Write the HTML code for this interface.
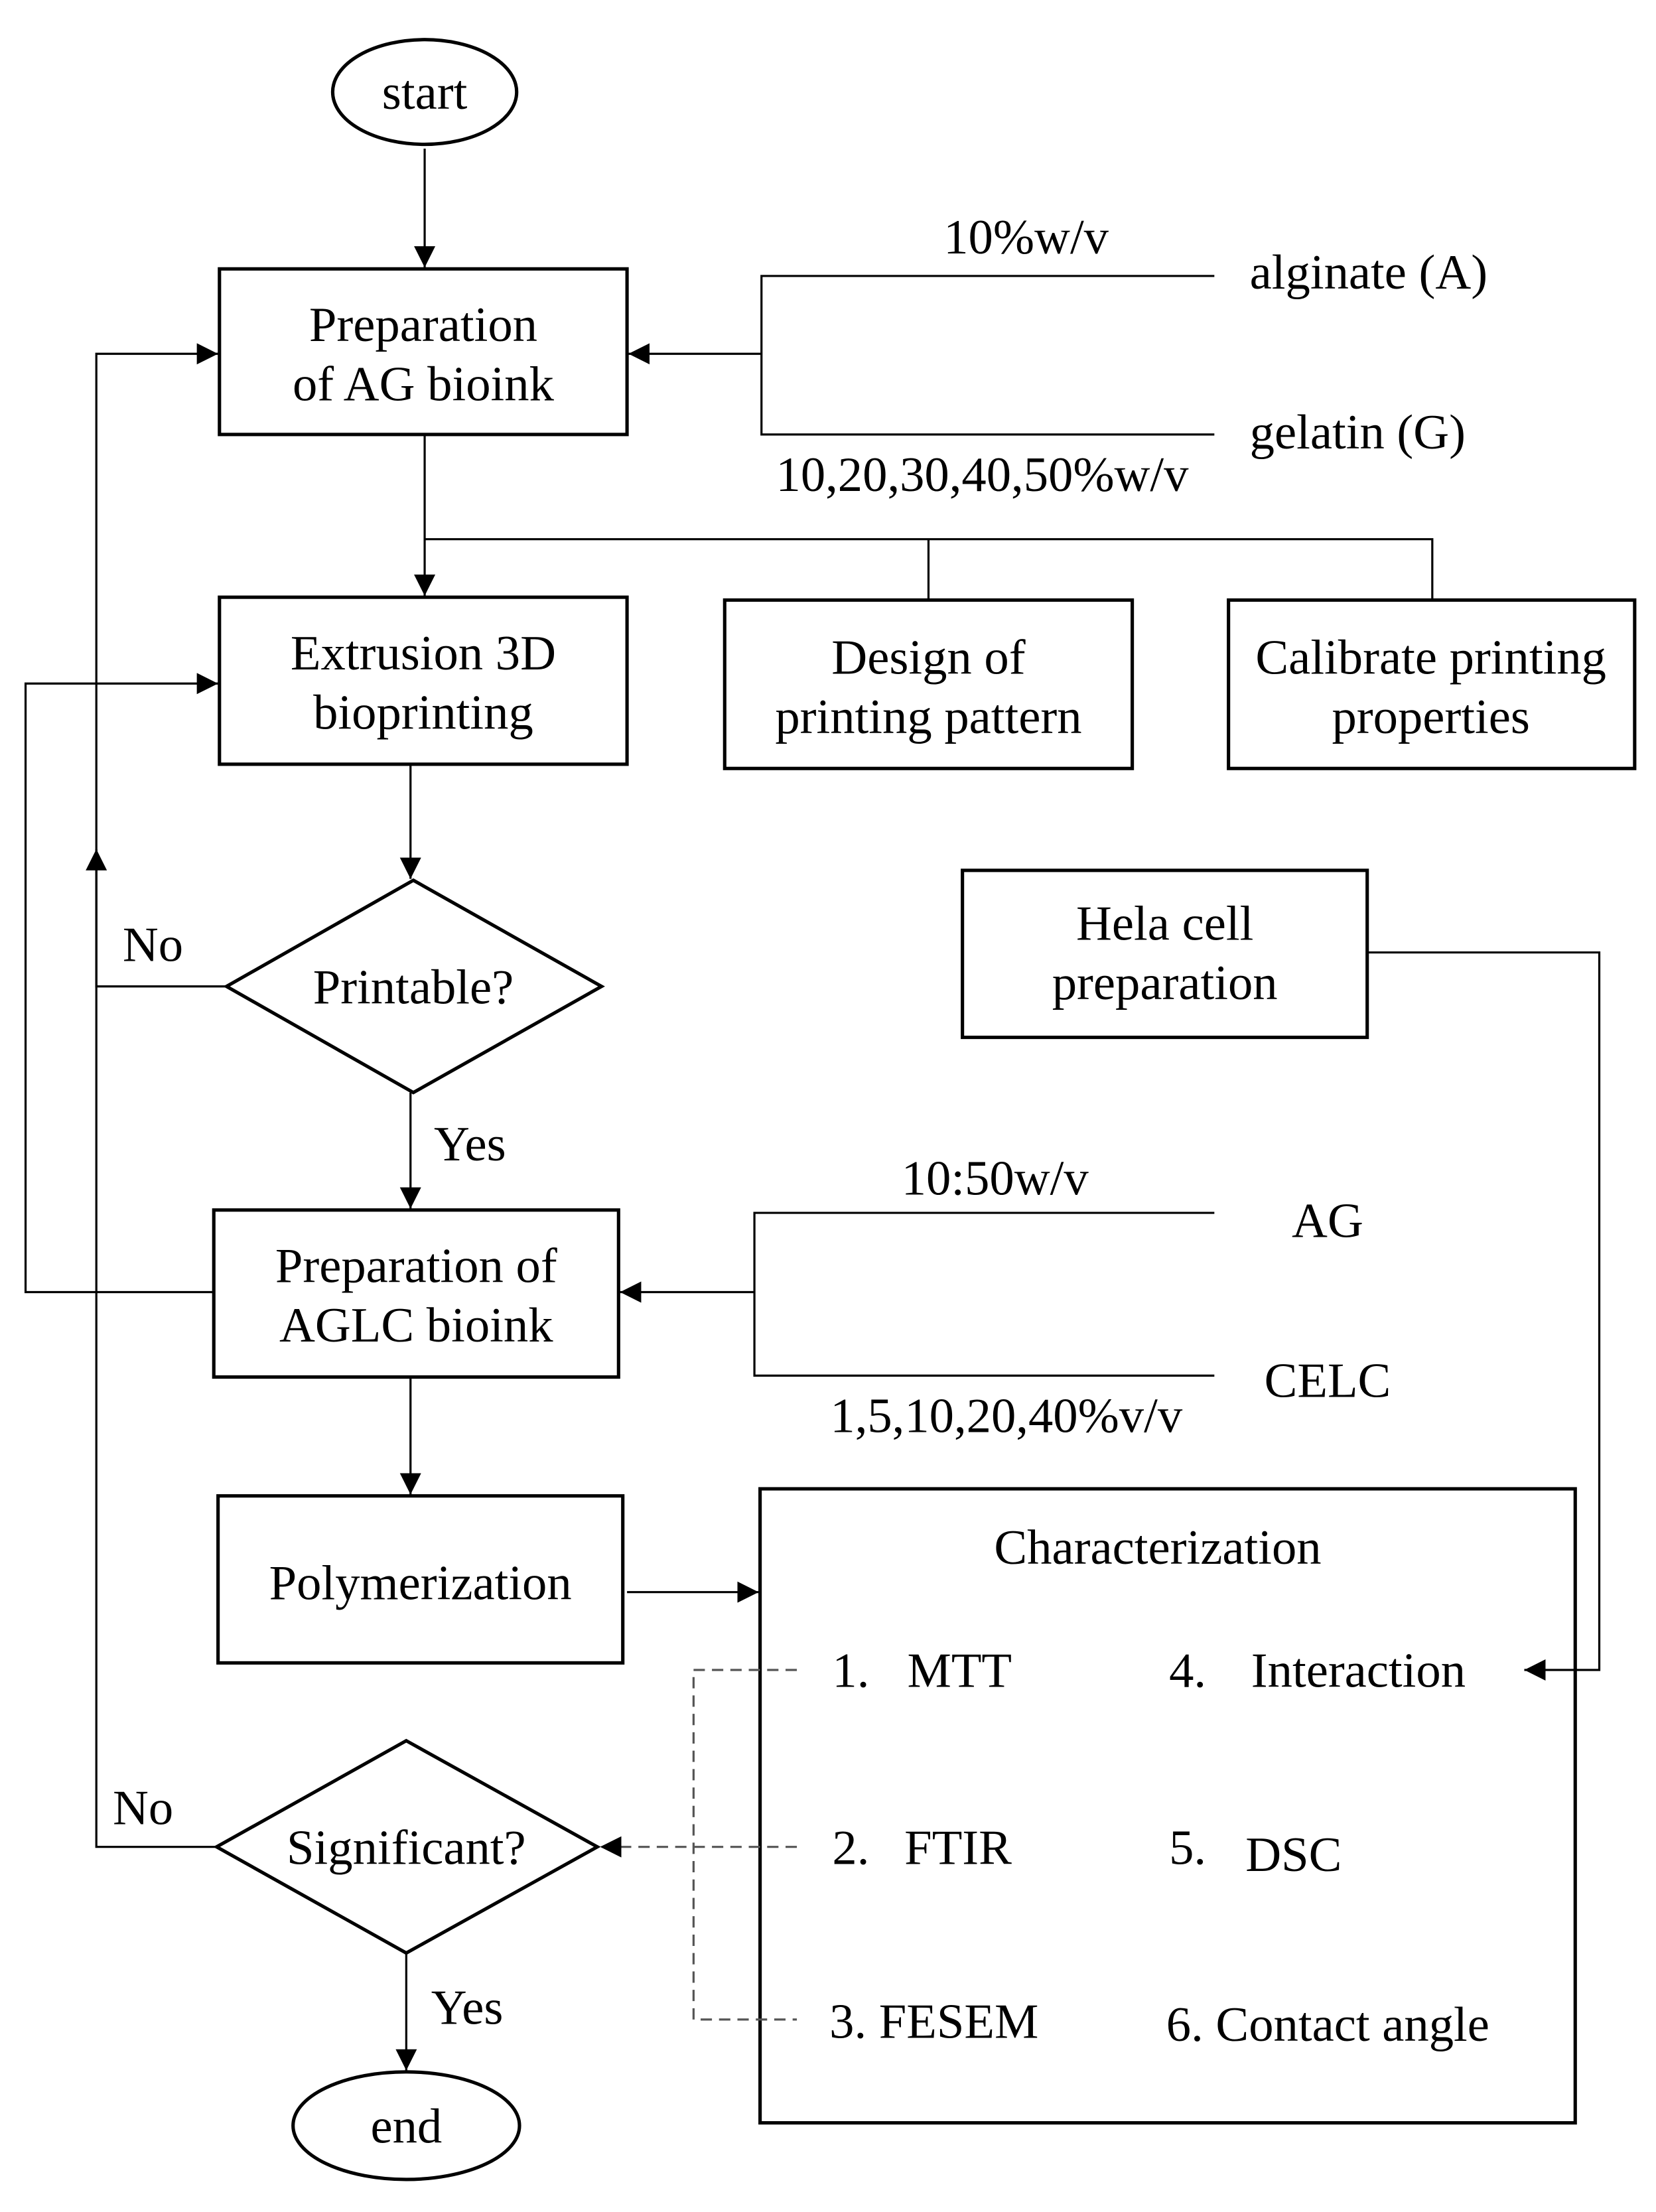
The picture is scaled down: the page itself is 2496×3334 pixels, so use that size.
<!DOCTYPE html>
<html><head><meta charset="utf-8"><style>html,body{margin:0;padding:0;background:#fff}svg{display:block}</style></head>
<body>
<svg width="2496" height="3334" viewBox="0 0 1170 1563" xmlns="http://www.w3.org/2000/svg">
<defs>
<marker id="a" viewBox="0 0 10 10" refX="10" refY="5" markerWidth="15" markerHeight="15" markerUnits="userSpaceOnUse" orient="auto"><path d="M0,0 L10,5 L0,10 z" fill="#000"/></marker>
</defs>
<g font-family="Liberation Serif, serif" font-size="35" fill="#000" text-anchor="middle">
<g fill="none" stroke="#000" stroke-width="2.4">
<ellipse cx="300" cy="65" rx="65" ry="37"/>
<rect x="155" y="190" width="288" height="117"/>
<rect x="155" y="422" width="288" height="118"/>
<rect x="512" y="424" width="288" height="119"/>
<rect x="868" y="424" width="287" height="119"/>
<polygon points="292,622 425,697 292,772 160,697"/>
<rect x="680" y="615" width="286" height="118"/>
<rect x="151" y="855" width="286" height="118"/>
<rect x="154" y="1057" width="286" height="118"/>
<rect x="537" y="1052" width="576" height="448"/>
<polygon points="287,1230 422,1305 287,1380 153,1305"/>
<ellipse cx="287" cy="1502" rx="80" ry="38"/>
</g>
<g fill="none" stroke="#000" stroke-width="1.5">
<line x1="300" y1="105" x2="300" y2="189" marker-end="url(#a)"/>
<polyline points="858,195 538,195 538,307 858,307"/>
<line x1="538" y1="250" x2="444" y2="250" marker-end="url(#a)"/>
<line x1="300" y1="307" x2="300" y2="421" marker-end="url(#a)"/>
<polyline points="300,381 1012,381 1012,424"/>
<line x1="656" y1="381" x2="656" y2="424"/>
<line x1="290" y1="540" x2="290" y2="621" marker-end="url(#a)"/>
<polyline points="160,697 68,697 68,600" marker-end="url(#a)"/>
<polyline points="153,1305 68,1305 68,250 154,250" marker-end="url(#a)"/>
<polyline points="151,913 18,913 18,483 154,483" marker-end="url(#a)"/>
<line x1="290" y1="772" x2="290" y2="854" marker-end="url(#a)"/>
<polyline points="858,857 533,857 533,972 858,972"/>
<line x1="533" y1="913" x2="438" y2="913" marker-end="url(#a)"/>
<line x1="290" y1="973" x2="290" y2="1056" marker-end="url(#a)"/>
<line x1="443" y1="1125" x2="536" y2="1125" marker-end="url(#a)"/>
<polyline points="966,673 1130,673 1130,1180 1077,1180" marker-end="url(#a)"/>
<line x1="287" y1="1380" x2="287" y2="1463" marker-end="url(#a)"/>
<g stroke="#555" stroke-dasharray="8,5">
<polyline points="563,1180 490,1180 490,1427 563,1427"/>
<line x1="563" y1="1305" x2="424" y2="1305" marker-end="url(#a)"/>
</g>
</g>
<text x="300" y="77">start</text>
<text x="299" y="241">Preparation</text>
<text x="299" y="283">of AG bioink</text>
<text x="725" y="179">10%w/v</text>
<text x="883" y="204" text-anchor="start">alginate (A)</text>
<text x="883" y="317" text-anchor="start">gelatin (G)</text>
<text x="694" y="347">10,20,30,40,50%w/v</text>
<text x="299" y="473">Extrusion 3D</text>
<text x="299" y="515">bioprinting</text>
<text x="656" y="476">Design of</text>
<text x="656" y="518">printing pattern</text>
<text x="1011" y="476">Calibrate printing</text>
<text x="1011" y="518">properties</text>
<text x="292" y="709">Printable?</text>
<text x="108" y="679">No</text>
<text x="823" y="664">Hela cell</text>
<text x="823" y="706">preparation</text>
<text x="332" y="820">Yes</text>
<text x="294" y="906">Preparation of</text>
<text x="294" y="948">AGLC bioink</text>
<text x="703" y="844">10:50w/v</text>
<text x="938" y="874">AG</text>
<text x="938" y="987">CELC</text>
<text x="711" y="1012">1,5,10,20,40%v/v</text>
<text x="297" y="1130">Polymerization</text>
<text x="818" y="1105">Characterization</text>
<g text-anchor="start">
<text x="588" y="1192">1.</text><text x="641" y="1192">MTT</text>
<text x="826" y="1192">4.</text><text x="884" y="1192">Interaction</text>
<text x="588" y="1317">2.</text><text x="639" y="1317">FTIR</text>
<text x="826" y="1317">5.</text><text x="880" y="1322">DSC</text>
<text x="586" y="1440">3. FESEM</text>
<text x="824" y="1442">6. Contact angle</text>
</g>
<text x="287" y="1317">Significant?</text>
<text x="101" y="1289">No</text>
<text x="330" y="1430">Yes</text>
<text x="287" y="1514">end</text>
</g>
</svg>
</body></html>
